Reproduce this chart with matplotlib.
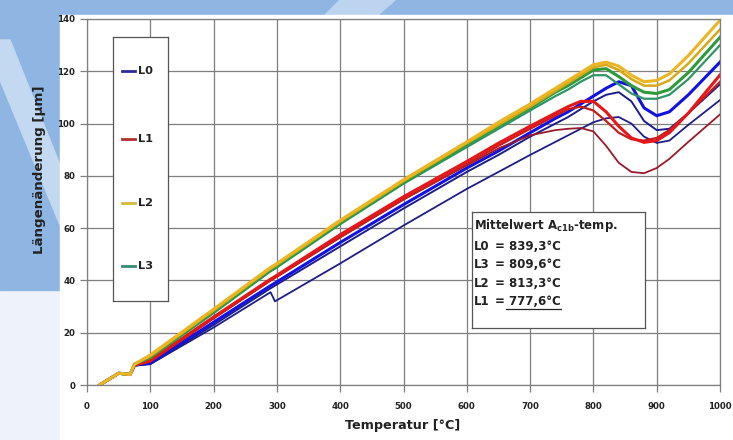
import matplotlib
matplotlib.use("Agg")
import matplotlib.pyplot as plt
from matplotlib.patches import Rectangle, Polygon
from matplotlib.lines import Line2D

plt.rcParams["font.family"] = ["DejaVu Sans"]
plt.rcParams["mathtext.fontset"] = "dejavusans"

# --- data (temperature in degC, length change in um) ---
temp = [20, 50, 68, 75, 100, 200, 290, 297, 400, 500, 600, 650, 700, 740,
        760, 780, 800, 820, 840, 860, 880, 900, 920, 950, 1000]

l0_a = [0, 4.5, 4, 7.5, 8.5, 24, 38, 39, 54.5, 69, 83, 89.5, 96.5, 102,
        104.5, 107.5, 110.5, 113.5, 116, 114.5, 106, 103, 104.5, 111, 123.5]
l0_b = [0, 4.5, 4, 7.5, 8, 23, 37, 38, 53, 67.5, 81.5, 88, 95, 100,
        102.5, 105.5, 108.5, 111, 112, 108.5, 101, 97.5, 98, 104, 115]
l0_c = [0, 4.5, 4, 7.5, 8, 22, 35.5, 32, 46.5, 61, 75, 81.5, 88, 93,
        95.5, 98, 100.5, 102, 102.5, 100, 95, 92.6, 93.5, 99.5, 109]

l1_a = [0, 4.5, 4, 7.5, 9.5, 26, 40.5, 41.5, 57.5, 72, 85.5, 92.5, 99, 104,
        106.5, 108.5, 108.5, 104.5, 99, 94.5, 92.8, 93.5, 96.5, 104, 118.6]
l1_b = [0, 4.5, 4, 7.5, 9, 25.5, 40, 41, 56.5, 71, 84.5, 91.5, 98, 103,
        105.5, 106.5, 105, 101, 96.5, 94, 93.5, 94.5, 97.5, 104, 116]
l1_c = [0, 4.5, 4, 7.5, 9, 25.5, 40, 41, 56.5, 71, 84, 90.5, 95.5, 97.5,
        98, 98.3, 97, 91.5, 85, 81.5, 81, 83, 86.5, 93, 103.5]

l2_a = [0, 4.5, 4, 8, 11.5, 29, 45, 46, 63, 78.5, 93, 100.5, 107.5, 113.5,
        116.5, 119.5, 122.5, 123.5, 122, 118.5, 116, 116.5, 119, 126, 139.5]
l2_b = [0, 4.5, 4, 8, 11, 28.5, 44.5, 45.5, 62.5, 78, 92.5, 99.5, 106.5, 112.5,
        115.5, 118.5, 121.5, 122.5, 120.5, 117, 114.5, 114.5, 116.5, 123, 136]

l3_a = [0, 4.5, 4, 8, 10.5, 28, 44, 45, 62, 77.5, 92, 99, 106, 112,
        114.5, 117.5, 120.5, 121, 118, 114.5, 112, 111.5, 113, 119.5, 133]
l3_b = [0, 4.5, 4, 8, 10.5, 27.5, 43.5, 44.5, 61.5, 77, 91, 98, 105, 110.5,
        113, 116, 118.5, 118.5, 115, 111.5, 109.5, 109.5, 111, 117, 130]

legend_labels = ["L0", "L1", "L2", "L3"]
box_title = r"Mittelwert $\mathbf{A_{c1b}}$-temp."
box_rows = [("L0", "= 839,3°C"), ("L3", "= 809,6°C"),
            ("L2", "= 813,3°C"), ("L1", "= 777,6°C")]

W, H = 733, 440
fig = plt.figure(figsize=(W / 100, H / 100), dpi=100)

# slide-like background behind the chart
bg = fig.add_axes([0, 0, 1, 1], zorder=-5)
bg.set_xlim(0, W)
bg.set_ylim(H, 0)
bg.axis("off")
bg.add_patch(Rectangle((0, 0), W, H, color="#eef2fa"))
bg.add_patch(Rectangle((0, 0), W, 15, color="#8fb6e3"))
bg.add_patch(Rectangle((0, 0), 60, 290, color="#8fb6e3"))
bg.add_patch(Polygon([(0, 40), (10, 40), (60, 165), (60, 225), (0, 80)],
                     color="#c3d8f1"))
bg.add_patch(Polygon([(340, 0), (395, 0), (378, 15), (325, 15)], color="#bcd4ef"))
bg.add_patch(Rectangle((60, 15), W - 60, H - 15, color="white"))

ax = fig.add_axes([87 / W, 1 - 385 / H, (720 - 87) / W, (385 - 19) / H])
ax.set_facecolor("white")

series = [
    (l0_c, "#1e1e86", 1.3), (l0_b, "#1c1c8c", 1.4), (l0_a, "#1212e0", 2.2),
    (l1_c, "#9a1a2a", 1.3), (l1_b, "#c81c1c", 1.6), (l1_a, "#e41818", 2.2),
    (l3_b, "#2f9466", 1.6), (l3_a, "#2e9a3a", 2.2),
    (l2_b, "#d8a818", 1.8), (l2_a, "#ebb523", 2.2),
]
for vals, col, lw in series:
    ax.plot(temp, vals, color=col, lw=lw, solid_joinstyle="round")

ax.set_xlim(0, 1000)
ax.set_ylim(0, 140)
ax.set_xticks(range(0, 1001, 100))
ax.set_yticks(range(0, 141, 20))
ax.grid(color="#7f7f7f", lw=0.9)
ax.set_axisbelow(True)
for s in ax.spines.values():
    s.set_color("#7f7f7f")
    s.set_linewidth(0.9)
ax.tick_params(length=5, width=0.9, color="#7f7f7f", labelsize=6.2,
               labelcolor="#222222")
ax.tick_params(axis="x", pad=7)
for lab in ax.get_xticklabels() + ax.get_yticklabels():
    lab.set_fontweight("bold")

fig.text(403 / W, 1 - 425 / H, "Temperatur [°C]", ha="center", va="center",
         fontsize=9.2, fontweight="bold", color="#222222")
fig.text(40 / W, 1 - 170 / H, "Längenänderung [µm]", ha="center", va="center",
         rotation=90, fontsize=9.6, fontweight="bold", color="#222222")

# legend box drawn by hand (tall narrow box as in the original)
lg = fig.add_axes([113 / W, 1 - 301 / H, (168 - 113) / W, (301 - 37) / H])
lg.set_xlim(113, 168)
lg.set_ylim(301, 37)
lg.set_xticks([])
lg.set_yticks([])
for s in lg.spines.values():
    s.set_color("#555555")
    s.set_linewidth(0.9)
leg_cols = ["#2b2b99", "#b03030", "#d8b840", "#3a8a7a"]
leg_y = [71, 139, 203, 266]
for lab, col, yy in zip(legend_labels, leg_cols, leg_y):
    lg.add_line(Line2D([122, 135], [yy, yy], color=col, lw=2))
    lg.text(138, yy, lab, va="center", ha="left", fontsize=8.2,
            fontweight="bold", color="#222222")

# text box with the mean transformation temperatures
tb = fig.add_axes([472 / W, 1 - 328 / H, (645 - 472) / W, (328 - 212) / H])
tb.set_xlim(472, 645)
tb.set_ylim(328, 212)
tb.set_xticks([])
tb.set_yticks([])
for s in tb.spines.values():
    s.set_color("#555555")
    s.set_linewidth(0.9)
tb.text(474, 225, box_title, va="center", ha="left", fontsize=8.5,
        fontweight="bold", color="#222222")
last = None
for i, (name, val) in enumerate(box_rows):
    yy = 246 + i * 18.5
    tb.text(474, yy, name, va="center", ha="left", fontsize=8.5,
            fontweight="bold", color="#222222")
    last = tb.text(495, yy, val, va="center", ha="left", fontsize=8.5,
                   fontweight="bold", color="#222222")

# underline the last value
fig.canvas.draw()
bb = last.get_window_extent()
x0 = bb.x0 + (bb.x1 - bb.x0) * 0.17
fig.add_artist(Line2D([x0 / W, bb.x1 / W], [(bb.y0 - 1) / H, (bb.y0 - 1) / H],
                      color="#222222", lw=0.9))

fig.savefig("out.png", dpi=100)
